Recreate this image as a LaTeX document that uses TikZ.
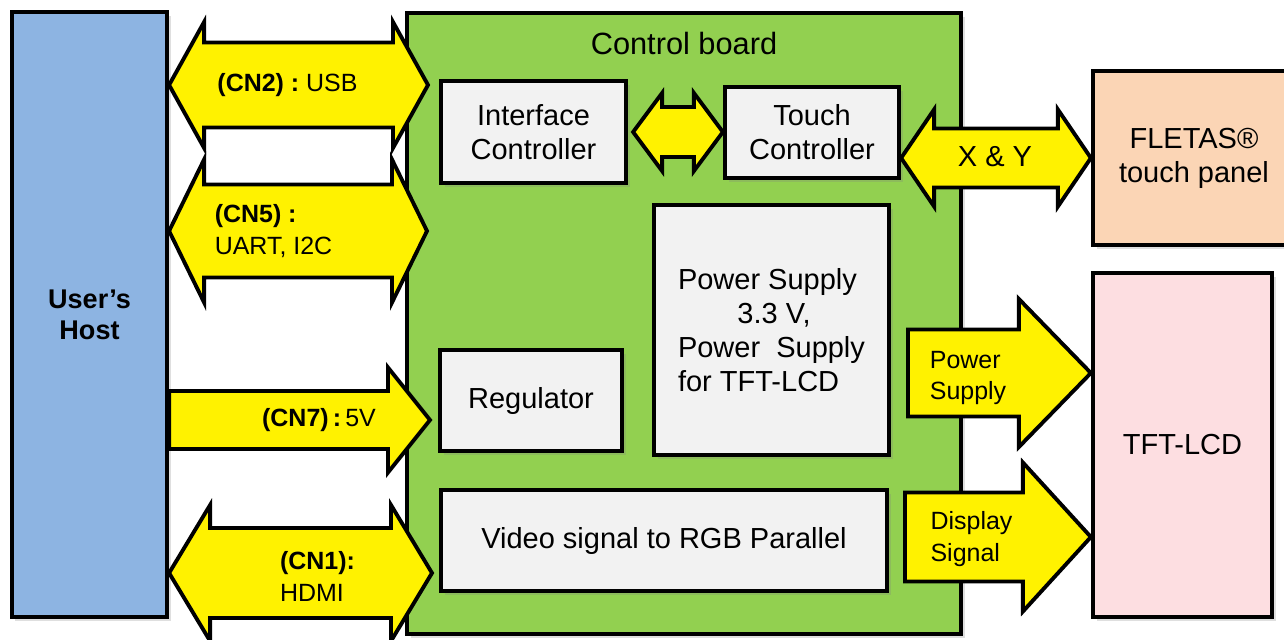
\documentclass[tikz,border=0pt]{standalone}
\usepackage{fontspec}
\setmainfont{Liberation Sans}
\usetikzlibrary{calc, shadows}

\definecolor{hostblue}{RGB}{141,180,226}
\definecolor{boardgreen}{RGB}{146,208,80}
\definecolor{blockgray}{RGB}{242,242,242}
\definecolor{panelpeach}{RGB}{251,213,181}
\definecolor{lcdpink}{RGB}{253,222,225}

\tikzset{
  maintext/.style={font=\fontsize{16.5}{19.3}\selectfont},
  labeltext/.style={font=\fontsize{14.2}{18.2}\selectfont},
  blockbox/.style={draw, line width=2.4pt, align=center, inner sep=0pt, maintext,
    drop shadow={shadow xshift=0.07cm, shadow yshift=-0.07cm, opacity=0.25}},
  blockarrow/.style={draw, line width=2.2pt, fill=yellow, line join=miter}
}

% double block arrow: left tip, right tip, shaft half, head half, head length
\newcommand{\dblarrow}[5]{%
  \draw[blockarrow] let \p1=(#1), \p2=(#2) in
    (\x1,\y1) -- (\x1+#5,\y1+#4) -- (\x1+#5,\y1+#3) -- (\x2-#5,\y1+#3)
    -- (\x2-#5,\y1+#4) -- (\x2,\y1) -- (\x2-#5,\y1-#4) -- (\x2-#5,\y1-#3)
    -- (\x1+#5,\y1-#3) -- (\x1+#5,\y1-#4) -- cycle;}
% single block arrow: tail, tip, shaft half, head half, head length
\newcommand{\onearrow}[5]{%
  \draw[blockarrow] let \p1=(#1), \p2=(#2) in
    (\x1,\y2+#3) -- (\x2-#5,\y2+#3) -- (\x2-#5,\y2+#4) -- (\x2,\y2)
    -- (\x2-#5,\y2-#4) -- (\x2-#5,\y2-#3) -- (\x1,\y2-#3) -- cycle;}

\begin{document}
\begin{tikzpicture}
  \useasboundingbox (0,0) rectangle (25.68,-12.78);

  % Blocks
  \node[blockbox, fill=hostblue, minimum width=3.1cm, minimum height=12.1cm,
    font=\bfseries\fontsize{15.4}{17.6}\selectfont] (host) at (1.79,-6.29) {User's\\Host};
  \node[blockbox, fill=boardgreen, minimum width=11.08cm, minimum height=12.42cm] (board) at (13.68,-6.47) {};
  \node[font=\fontsize{17.5}{20}\selectfont] (boardtitle) at (13.68,-0.88) {Control board};

  \node[blockbox, fill=blockgray, minimum width=3.7cm, minimum height=2.04cm] (ifc) at (10.67,-2.64) {Interface\\Controller};
  \node[blockbox, fill=blockgray, minimum width=3.48cm, minimum height=1.82cm] (touch) at (16.24,-2.65) {Touch\\Controller};
  \node[blockbox, fill=blockgray, align=left, minimum width=4.7cm, minimum height=5cm] (psu) at (15.43,-6.60)
    {Power Supply\\\hspace*{2.05em}3.3 V,\\Power\ \ Supply\\for TFT-LCD};
  \node[blockbox, fill=blockgray, minimum width=3.64cm, minimum height=2.02cm] (reg) at (10.62,-8.01) {Regulator};
  \node[blockbox, fill=blockgray, minimum width=8.92cm, minimum height=2.02cm] (video) at (13.28,-10.81) {Video signal to RGB Parallel};

  \node[blockbox, fill=panelpeach, minimum width=4.04cm, minimum height=3.48cm] (panel) at (23.88,-3.16) {FLETAS®\\touch panel};
  \node[blockbox, fill=lcdpink, minimum width=3.58cm, minimum height=6.88cm] (lcd) at (23.65,-8.90) {TFT-LCD};

  % Arrow ends
  \coordinate (usb) at (8.56,-1.70);
  \coordinate (uart) at (8.54,-4.62);
  \coordinate (pwr) at (8.60,-8.40);
  \coordinate (hdmi) at (8.64,-11.46);
  \coordinate (pstail) at (18.16,-7.46);
  \coordinate (dstail) at (18.10,-10.74);

  % Arrows
  \dblarrow{host.east |- usb}{usb}{0.85cm}{1.26cm}{0.70cm}
  \dblarrow{host.east |- uart}{uart}{0.93cm}{1.43cm}{0.70cm}
  \onearrow{host.east |- pwr}{pwr}{0.58cm}{1.05cm}{0.84cm}
  \dblarrow{host.east |- hdmi}{hdmi}{0.90cm}{1.36cm}{0.82cm}
  \dblarrow{[xshift=0.1cm]ifc.east}{touch.west}{0.50cm}{0.78cm}{0.58cm}
  \dblarrow{touch.east |- panel.west}{panel.west}{0.59cm}{0.97cm}{0.66cm}
  \onearrow{pstail}{lcd.west |- pstail}{0.87cm}{1.48cm}{1.44cm}
  \onearrow{dstail}{lcd.west |- dstail}{0.89cm}{1.49cm}{1.36cm}

  % Labels
  \node[labeltext] (usblabel) at (5.75,-1.70) {\textbf{(CN2)\ :}\ USB};
  \node[labeltext, align=left] (uartlabel) at (5.47,-4.63) {\textbf{(CN5)\ :}\\UART, I2C};
  \node[labeltext] (pwrlabel) at (6.38,-8.40) {\textbf{(CN7)\,:}\,5V};
  \node[labeltext, align=left] (hdmilabel) at (6.35,-11.52) {\textbf{(CN1):}\\HDMI};
  \node[maintext] (xylabel) at (19.90,-3.14) {X \& Y};
  \node[labeltext, align=left] (pslabel) at (19.36,-7.56) {Power\\Supply};
  \node[labeltext, align=left] (dslabel) at (19.43,-10.78) {Display\\Signal};
\end{tikzpicture}
\end{document}
